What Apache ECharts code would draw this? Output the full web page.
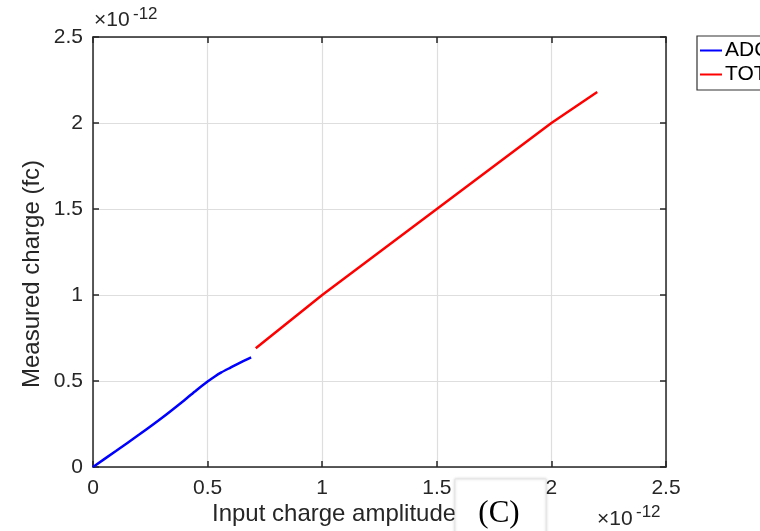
<!DOCTYPE html>
<html>
<head>
<meta charset="utf-8">
<script src="https://cdn.jsdelivr.net/npm/echarts@6/dist/echarts.min.js"></script>
<style>
  html, body { margin: 0; padding: 0; background: #fff; }
  #main { width: 760px; height: 531px; }
</style>
</head>
<body>
<div id="main"></div>
<script>
// values, in units of 1e-12
var adcX = [0, 0.1, 0.2, 0.3, 0.4, 0.45, 0.5, 0.53, 0.56, 0.6, 0.64, 0.69];
var adcY = [0, 0.093, 0.187, 0.285, 0.39, 0.445, 0.497, 0.525, 0.55, 0.578, 0.606, 0.638];
var totX = [0.71, 1.0, 1.5, 2.0, 2.2];
var totY = [0.69, 1.0, 1.5, 2.0, 2.18];
var tickLabels = ['0', '0.5', '1', '1.5', '2', '2.5'];

var textColor = '#262626';
var font = 'Liberation Sans';

function pairs(xs, ys) {
    var out = [];
    for (var i = 0; i < xs.length; i++) {
        out.push([xs[i], ys[i]]);
    }
    return out;
}

function valueAxis(pos, show) {
    return {
        type: 'value',
        position: pos,
        min: 0,
        max: 2.5,
        interval: 0.5,
        axisLine: { show: true, onZero: false, lineStyle: { color: textColor, width: 1.5 } },
        axisTick: { show: true, inside: true, length: 6, lineStyle: { color: textColor, width: 1.5 } },
        axisLabel: {
            show: show,
            color: textColor,
            fontFamily: font,
            fontSize: 21,
            margin: (pos == 'bottom') ? 11 : 10,
            formatter: function (v) { return tickLabels[Math.round(v / 0.5)]; }
        },
        splitLine: { show: show, lineStyle: { color: '#dedede', width: 1.2 } }
    };
}

var chart = echarts.init(document.getElementById('main'));
chart.setOption({
    animation: false,
    backgroundColor: '#fff',
    grid: { left: 93, right: 94, top: 37, bottom: 64 },
    xAxis: [valueAxis('bottom', true), valueAxis('top', false)],
    yAxis: [valueAxis('left', true), valueAxis('right', false)],
    legend: {
        orient: 'vertical',
        left: 697,
        top: 36,
        icon: 'rect',
        itemWidth: 22,
        itemHeight: 2,
        itemGap: 3,
        padding: [4, 6, 5, 3],
        borderColor: '#333',
        borderWidth: 1.2,
        textStyle: { fontFamily: font, fontSize: 21, color: '#000', padding: [0, 0, 0, -2] },
        data: ['ADC', 'TOT']
    },
    series: [
        {
            name: 'ADC',
            type: 'line',
            data: pairs(adcX, adcY),
            smooth: 0.2,
            showSymbol: false,
            color: '#0000ff',
            lineStyle: { width: 2.5 }
        },
        {
            name: 'TOT',
            type: 'line',
            data: pairs(totX, totY),
            showSymbol: false,
            color: '#ff0000',
            lineStyle: { width: 2.5 }
        }
    ],
    graphic: [
        {
            type: 'text', left: 94, top: 10,
            style: { text: '\u00d710', font: '21px "Liberation Sans"', fill: textColor }
        },
        {
            type: 'text', left: 133, top: 6,
            style: { text: '-12', font: '17px "Liberation Sans"', fill: textColor }
        },
        {
            type: 'text',
            x: 32, y: 274,
            rotation: Math.PI / 2,
            style: {
                text: 'Measured charge (fc)', font: '24px "Liberation Sans"', fill: textColor,
                align: 'center', verticalAlign: 'middle'
            }
        },
        {
            type: 'text', left: 212, top: 502,
            style: { text: 'Input charge amplitude (fc)', font: '24px "Liberation Sans"', fill: textColor }
        },
        {
            type: 'text', left: 597, top: 509,
            style: { text: '\u00d710', font: '21px "Liberation Sans"', fill: textColor }
        },
        {
            type: 'text', left: 636, top: 504,
            style: { text: '-12', font: '17px "Liberation Sans"', fill: textColor }
        },
        {
            type: 'rect',
            shape: { x: 455, y: 479, width: 91, height: 60 },
            style: { fill: '#fff', stroke: '#e6e6e6', lineWidth: 1, shadowBlur: 3, shadowColor: 'rgba(0,0,0,0.15)' },
            z: 100
        },
        {
            type: 'text',
            x: 499, y: 514,
            z: 101,
            style: {
                text: '(C)', font: '31px "Liberation Serif"', fill: '#000',
                align: 'center', verticalAlign: 'middle'
            }
        }
    ]
});
</script>
</body>
</html>
